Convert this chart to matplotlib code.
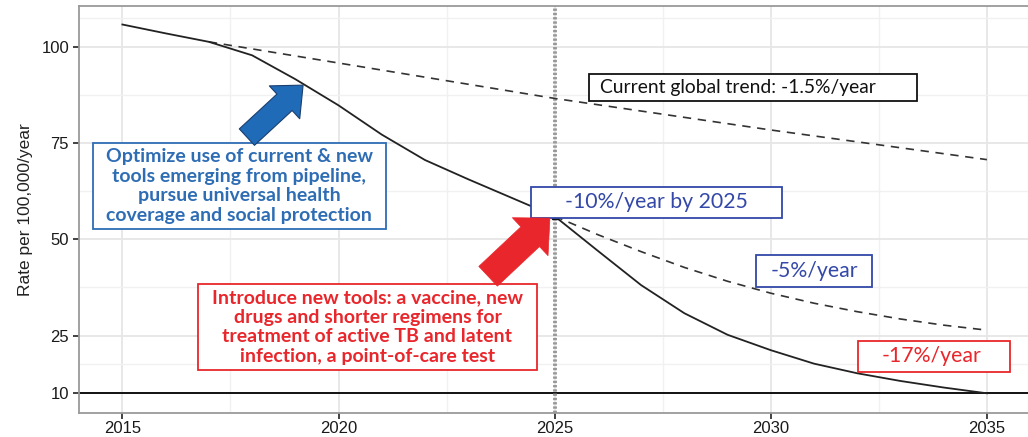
import numpy as np
import matplotlib
matplotlib.use("Agg")
import matplotlib.pyplot as plt
from matplotlib.patches import Rectangle

# Data
years = [2015, 2016, 2017, 2018, 2019, 2020, 2021, 2022, 2023, 2024, 2025,
         2026, 2027, 2028, 2029, 2030, 2031, 2032, 2033, 2034, 2035]
rate_17 = [105.8, 103.5, 101.3, 97.8, 91.6, 84.8, 77.2, 70.6, 65.6, 60.8, 56.0,
           47.0, 38.1, 30.8, 25.2, 21.2, 17.7, 15.2, 13.2, 11.5, 10.0]

trend_years = [2017, 2020, 2025, 2030, 2035]
trend_rate = [101.3, 95.8, 86.6, 78.4, 70.7]

five_years = [2025, 2026, 2027, 2028, 2029, 2030, 2031, 2032, 2033, 2034, 2035]
five_rate = [56.0, 51.2, 46.8, 42.7, 39.1, 36.0, 33.4, 31.2, 29.3, 27.7, 26.4]

x_ticks = [2015, 2020, 2025, 2030, 2035]
y_ticks = [10, 25, 50, 75, 100]
x_minor = [2017.5, 2022.5, 2027.5, 2032.5]
y_minor = [17.5, 37.5, 62.5, 87.5, 107.5]
target_year = 2025
end_target = 10

BLUE = "#2E6DB4"
NAVY = "#3348A8"
RED = "#E8262B"
box_font = ["Lato", "DejaVu Sans"]

fig = plt.figure(figsize=(10.28, 4.37), dpi=100)
ax = fig.add_axes([0.0766, 0.0542, 0.9234, 0.932])
ax.set_xlim(2013.99, 2035.95)
ax.set_ylim(4.8, 110.6)

# grid like ggplot theme_bw
ax.set_xticks(x_ticks)
ax.set_yticks(y_ticks)
ax.set_xticks(x_minor, minor=True)
ax.set_yticks(y_minor, minor=True)
ax.grid(which="major", color="#E6E6E6", lw=1.3, zorder=0)
ax.grid(which="minor", color="#F1F1F1", lw=1.0, zorder=0)
ax.tick_params(which="minor", length=0)
ax.tick_params(which="major", length=4, width=1.3, color="#333333",
               labelsize=12, labelcolor="#1A1A1A")
ax.tick_params(axis="x", pad=1.5)
ax.tick_params(axis="y", pad=3)
for lab in ax.get_xticklabels() + ax.get_yticklabels():
    lab.set_fontfamily(["Liberation Sans", "DejaVu Sans"])
for side in ["left", "bottom", "top"]:
    ax.spines[side].set_color("#9A9A9A")
    ax.spines[side].set_linewidth(1.3)
ax.spines["right"].set_visible(False)

ax.set_ylabel("Rate per 100,000/year", fontsize=12.5,
              family=["Liberation Sans Narrow", "Liberation Sans", "DejaVu Sans"],
              color="#222222", labelpad=6)

# reference lines
ax.axhline(end_target, color="#111111", lw=1.4, zorder=2)
ax.axvline(target_year, color="#999999", lw=2.8, ls=(0, (0.6, 0.5)), zorder=2)

# projections
ax.plot(trend_years, trend_rate, color="#333333", lw=1.2, ls=(0, (5, 4)), zorder=3)
ax.plot(five_years, five_rate, color="#333333", lw=1.2, ls=(0, (5, 4)), zorder=3)
ax.plot(years, rate_17, color="#222222", lw=1.3, zorder=4)
ax.plot([target_year], [rate_17[years.index(target_year)]], marker="s", ms=4,
        color="#111111", zorder=5)

# annotation boxes (x0, y0, x1, y1 in data units)
def box(x0, y0, x1, y1, ec):
    ax.add_patch(Rectangle((x0, y0), x1 - x0, y1 - y0, fill=True, fc="white",
                           ec=ec, lw=1.3, zorder=6))

box(2025.79, 85.9, 2033.39, 92.91, "#111111")
ax.text(2026.05, 89.4, "Current global trend: -1.5%/year", fontsize=13.9,
        family=box_font, color="#111111", va="center", ha="left", zorder=7)

box(2024.45, 55.52, 2030.26, 63.57, NAVY)
ax.text(2027.35, 59.6, "-10%/year by 2025", fontsize=15.3, family=box_font,
        color=NAVY, va="center", ha="center", zorder=7)

box(2029.66, 37.61, 2032.35, 45.92, NAVY)
ax.text(2031.0, 41.8, "-5%/year", fontsize=15.3, family=box_font,
        color=NAVY, va="center", ha="center", zorder=7)

box(2032.01, 15.53, 2035.53, 23.58, RED)
ax.text(2033.72, 19.6, "-17%/year", fontsize=15.3, family=box_font,
        color=RED, va="center", ha="center", zorder=7)

box(2014.32, 52.67, 2021.09, 75.0, BLUE)
ax.text(2017.7, 63.85, "Optimize use of current & new\ntools emerging from pipeline,\n"
        "pursue universal health\ncoverage and social protection",
        fontsize=14, fontweight="bold", family=box_font, color=BLUE,
        ha="center", va="center", linespacing=1.18, zorder=7)

box(2016.76, 16.0, 2024.59, 38.35, RED)
ax.text(2020.67, 27.2, "Introduce new tools: a vaccine, new\ndrugs and shorter regimens for\n"
        "treatment of active TB and latent\ninfection, a point-of-care test",
        fontsize=14, fontweight="bold", family=box_font, color=RED,
        ha="center", va="center", linespacing=1.18, zorder=7)

# block arrows
ax.annotate("", xy=(2019.18, 90.05), xytext=(2017.88, 76.55),
            arrowprops=dict(arrowstyle="simple,head_length=1.3,head_width=2.3,tail_width=1.15",
                            fc="#1F6BB8", ec="#1A3F6E", lw=0.8, shrinkA=0, shrinkB=0,
                            mutation_scale=14), zorder=8)
ax.annotate("", xy=(2024.89, 55.5), xytext=(2023.46, 40.4),
            arrowprops=dict(arrowstyle="simple,head_length=1.3,head_width=2.5,tail_width=1.3",
                            fc=RED, ec=RED, lw=0.5, shrinkA=0, shrinkB=0,
                            mutation_scale=15), zorder=8)

fig.savefig("out.png", dpi=100)
